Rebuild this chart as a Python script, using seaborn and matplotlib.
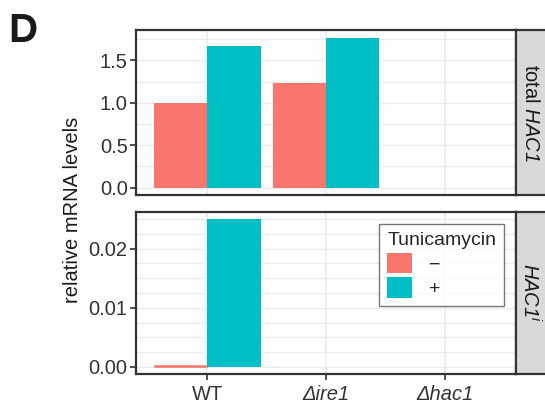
import matplotlib
matplotlib.use("Agg")
import matplotlib.pyplot as plt
import seaborn as sns
import pandas as pd
import numpy as np
from matplotlib.patches import Patch

# ---- data ----
genotypes = ["WT", "Δire1", "Δhac1"]
tunicamycin = ["−", "+"]
total_minus = [1.00, 1.23, 0.0]
total_plus = [1.67, 1.77, 0.0]
spliced_minus = [0.0003, 0.0, 0.0]
spliced_plus = [0.0250, 0.0, 0.0]
colors = ["#F8766D", "#00BFC4"]

sns.set_theme(style="white")
plt.rcParams["font.family"] = ["Liberation Sans", "DejaVu Sans"]
plt.rcParams["mathtext.fontset"] = "custom"
plt.rcParams["mathtext.rm"] = "Liberation Sans"
plt.rcParams["mathtext.it"] = "Liberation Sans:italic"
plt.rcParams["mathtext.sf"] = "Liberation Sans:italic"
plt.rcParams["mathtext.bf"] = "Liberation Sans:bold"

def make_df(minus, plus):
    rows = []
    for g, m, p in zip(genotypes, minus, plus):
        rows.append({"genotype": g, "Tunicamycin": "−", "value": m})
        rows.append({"genotype": g, "Tunicamycin": "+", "value": p})
    return pd.DataFrame(rows)

df_top = make_df(total_minus, total_plus)
df_bot = make_df(spliced_minus, spliced_plus)

W, H = 545, 408
fig = plt.figure(figsize=(W / 100, H / 100), dpi=100)

def px_axes(x0, y0, x1, y1):
    return fig.add_axes([x0 / W, 1 - y1 / H, (x1 - x0) / W, (y1 - y0) / H])

ax_top = px_axes(136, 30, 516, 195)
ax_bot = px_axes(136, 211.7, 516, 374.3)
strip_top = px_axes(516, 30, 547, 195)
strip_bot = px_axes(516, 211.7, 547, 374.3)

grid_c = "#EBEBEB"
border_c = "#333333"
text_c = "#333333"

for ax, df, ylim, majors, minors in [
    (ax_top, df_top, (-0.0885, 1.8585), [0, 0.5, 1.0, 1.5], np.arange(0, 1.76, 0.25)),
    (ax_bot, df_bot, (-0.00125, 0.02625), [0, 0.01, 0.02], np.arange(0, 0.02501, 0.0025)),
]:
    for yv in minors:
        ax.axhline(yv, color=grid_c, lw=1.0, zorder=0)
    for xv in range(len(genotypes)):
        ax.axvline(xv, color=grid_c, lw=1.2, zorder=0)
    sns.barplot(data=df, x="genotype", y="value", hue="Tunicamycin",
                hue_order=tunicamycin, order=genotypes, palette=colors,
                width=0.9, saturation=1, gap=0, ax=ax, legend=False, zorder=2,
                linewidth=0, edgecolor="none", err_kws={"linewidth": 0})
    ax.set_xlim(-0.6, 2.6)
    ax.set_ylim(*ylim)
    ax.set_yticks(majors)
    ax.set_xlabel("")
    ax.set_ylabel("")
    for s in ax.spines.values():
        s.set_color(border_c)
        s.set_linewidth(1.6)
    ax.tick_params(axis="both", length=4, width=1.2, color=border_c,
                   labelsize=14.5, labelcolor=text_c, pad=2, direction="out",
                   left=True, bottom=True)

# the tiny WT "-" bar in the lower panel shows as a thin line
for p in ax_bot.patches:
    if 0 < p.get_height() < 0.001:
        p.set_edgecolor(colors[0])
        p.set_linewidth(0.4)

ax_top.set_yticklabels(["0.0", "0.5", "1.0", "1.5"])
ax_bot.set_yticklabels(["0.00", "0.01", "0.02"])
ax_top.tick_params(axis="x", labelbottom=False, length=0)
ax_bot.set_xticks(range(len(genotypes)))
ax_bot.set_xticklabels(genotypes)
for t in ax_bot.get_xticklabels():
    if t.get_text().startswith("Δ"):
        t.set_fontstyle("italic")
ax_bot.tick_params(axis="x", pad=4)

# strips
for sax, label in [(strip_top, r"total $\mathsf{HAC1}$"),
                   (strip_bot, r"$\mathsf{HAC1}^{\mathsf{i}}$")]:
    sax.set_facecolor("#D9D9D9")
    sax.set_xticks([])
    sax.set_yticks([])
    for s in sax.spines.values():
        s.set_color(border_c)
        s.set_linewidth(1.6)
    sax.text(0.47, 0.5, label, rotation=-90, ha="center", va="center",
             fontsize=14.5, color="#1A1A1A", transform=sax.transAxes)

# legend
handles = [Patch(facecolor=c, edgecolor="none") for c in colors]
leg = ax_bot.legend(handles, tunicamycin, title="Tunicamycin",
                    loc="upper right", bbox_to_anchor=((504 - 136) / 380, (374.3 - 224) / 162.6),
                    fontsize=14, title_fontsize=14, frameon=True, fancybox=False,
                    handlelength=1.25, handleheight=1.25, handletextpad=0.9,
                    borderpad=0.4, labelspacing=0.2, borderaxespad=0)
leg.get_frame().set_edgecolor("#555555")
leg.get_frame().set_linewidth(1.0)
leg._legend_box.align = "left"

fig.text(73 / W, 1 - 210 / H, "relative mRNA levels", rotation=90,
         ha="center", va="center", fontsize=14.5, color="#1A1A1A")
fig.text(8 / W, 1 - 42 / H, "D", fontsize=29, fontweight="bold",
         ha="left", va="baseline", color="#1A1A1A")

fig.savefig("out.png", dpi=100)
